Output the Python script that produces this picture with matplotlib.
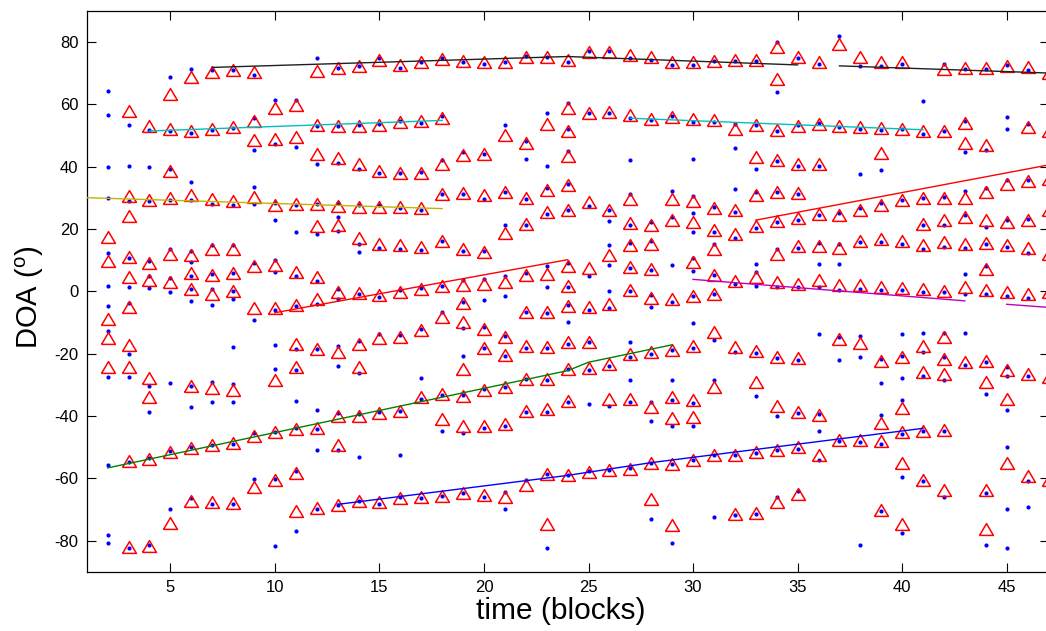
import matplotlib
matplotlib.use("Agg")
import matplotlib.pyplot as plt

plt.rcParams['font.family'] = ['Liberation Sans', 'DejaVu Sans']
plt.rcParams['mathtext.fontset'] = 'custom'
plt.rcParams['mathtext.rm'] = 'Liberation Sans'
plt.rcParams['axes.unicode_minus'] = False

# ---------------- data ----------------
blocks = list(range(2, 48))

# DOA estimates (red triangles), one list per block 2..47
tri_doa = [
    [17.4, 9.7, -9.0, -15.0, -24.4],                                         # 2
    [57.7, 30.4, 24.1, 11.1, 4.6, -5.0, -17.2, -24.4, -54.5, -82.0],         # 3
    [52.9, 29.3, 9.2, 3.6, -27.8, -33.8, -53.8, -81.7],                      # 4
    [63.2, 52.1, 38.5, 29.8, 11.8, 3.0, -51.6, -74.3],                       # 5
    [68.6, 51.5, 31.0, 11.5, 6.0, 0.6, -30.4, -50.3, -67.3],                 # 6
    [70.2, 52.0, 29.6, 13.4, 5.1, -0.8, -31.0, -49.5, -67.6],                # 7
    [70.9, 52.7, 28.9, 13.7, 5.8, 0.1, -31.7, -48.7, -67.8],                 # 8
    [70.2, 54.7, 48.5, 30.3, 8.1, -5.4, -46.3, -62.8],                       # 9
    [58.8, 48.9, 27.6, 8.3, -5.4, -28.4, -45.2, -60.5],                      # 10
    [59.6, 49.4, 28.1, 6.1, -4.5, -17.0, -24.4, -44.2, -58.3, -70.6],        # 11
    [70.5, 53.3, 43.9, 28.1, 20.9, 4.7, -2.6, -18.6, -44.0, -69.5],          # 12
    [71.6, 52.9, 42.6, 27.3, 21.4, -0.2, -19.6, -39.9, -49.3, -68.7],        # 13
    [72.2, 52.9, 40.7, 27.0, 17.2, -0.6, -17.0, -24.2, -39.9, -67.3],        # 14
    [74.2, 53.2, 38.5, 27.0, 15.3, -1.3, -15.0, -39.1, -67.6],               # 15
    [72.6, 54.3, 38.0, 27.0, 14.7, -0.2, -14.6, -38.3, -66.2],               # 16
    [73.4, 54.5, 38.0, 26.8, 14.2, 0.6, -12.5, -34.0, -66.0],                # 17
    [74.6, 55.6, 40.7, 31.2, 16.1, 1.7, -8.4, -33.0, -41.0, -65.8],          # 18
    [74.0, 43.6, 31.5, 13.7, 2.0, -3.9, -9.8, -24.9, -33.5, -43.4, -64.7],   # 19
    [73.5, 44.0, 30.8, 12.7, 2.2, -12.0, -18.2, -31.7, -43.1, -65.5],        # 20
    [73.5, 50.2, 31.9, 18.8, 3.0, -14.8, -20.5, -30.6, -42.6, -66.0],        # 21
    [75.2, 47.6, 30.0, 21.6, 5.1, -6.8, -17.5, -28.2, -38.5, -62.3],         # 22
    [75.2, 53.8, 32.6, 25.5, 5.4, -6.8, -18.0, -28.2, -37.8, -58.8, -74.6],  # 23
    [74.2, 58.7, 51.5, 43.3, 34.2, 26.2, 8.2, 1.7, -4.7, -16.2, -25.0, -35.1, -59.1],  # 24
    [76.6, 57.2, 28.5, 7.4, -5.2, -16.2, -24.6, -58.0],                      # 25
    [76.9, 57.4, 26.2, 11.5, -4.2, -23.2, -34.6, -57.5],                     # 26
    [75.9, 56.4, 29.6, 22.0, 14.7, 7.8, 0.3, -20.2, -34.6, -57.0],           # 27
    [75.2, 55.3, 21.4, 15.3, 7.0, -2.2, -19.6, -37.0, -55.1, -66.6],         # 28
    [73.7, 55.9, 29.6, 23.0, -2.6, -18.9, -34.0, -40.7, -55.6, -75.1],       # 29
    [73.5, 55.3, 29.1, 22.3, 9.5, -1.5, -17.5, -34.8, -40.4, -54.3],         # 30
    [74.0, 55.0, 26.8, 19.5, 13.7, 5.1, -0.8, -13.0, -30.8, -52.5],          # 31
    [74.2, 52.0, 25.9, 18.2, 3.3, -18.0, -52.4, -71.6],                      # 32
    [74.2, 53.2, 43.0, 30.8, 20.9, 4.4, -19.1, -29.2, -51.6, -71.2],         # 33
    [78.2, 68.0, 51.8, 42.2, 31.9, 22.5, 11.8, 2.8, -21.2, -36.7, -50.9, -67.6],  # 34
    [75.3, 52.9, 40.7, 31.6, 23.6, 14.5, 2.2, -21.5, -38.6, -50.0, -65.0],   # 35
    [73.5, 53.7, 40.7, 24.9, 14.5, 3.5, -39.7, -52.5],                       # 36
    [79.3, 52.9, 24.6, 14.0, 2.0, -15.4, -47.9],                             # 37
    [75.0, 52.7, 25.9, 16.1, 1.9, -16.7, -47.9],                             # 38
    [73.5, 52.4, 44.2, 27.6, 16.6, 1.2, -22.3, -42.2, -48.2, -70.1],         # 39
    [73.5, 52.1, 29.4, 16.1, 0.9, -21.0, -37.4, -45.2, -55.0, -74.6],        # 40
    [51.3, 30.0, 21.6, 14.7, 0.6, -17.5, -26.0, -44.7, -60.7],               # 41
    [71.3, 51.5, 30.0, 22.7, 15.8, 0.1, -14.6, -21.8, -26.6, -44.5, -63.9],  # 42
    [71.6, 54.0, 47.6, 30.0, 23.8, 15.3, 1.4, -22.8],                        # 43
    [71.6, 46.8, 31.8, 22.7, 15.6, 7.0, 0.3, -22.3, -29.2, -63.9, -76.4],    # 44
    [72.4, 34.5, 22.3, 14.8, -0.2, -25.3, -34.6, -55.0],                     # 45
    [71.8, 52.7, 35.3, 23.0, 14.0, -1.0, -26.6, -59.3],                      # 46
    [70.0, 51.5, 36.0, 26.2, 11.8, -0.4, -27.6, -60.5],                      # 47
]

# raw DOA observations (blue dots), one list per block 2..47
dot_doa = [
    [64.3, 56.6, 39.8, 29.8, 12.1, 1.6, -4.8, -12.7, -27.4, -55.7, -78.3, -80.7],   # 2
    [53.3, 40.3, 29.1, 10.6, 1.3, -3.7, -20.1, -27.4, -54.9, -82.3],               # 3
    [51.6, 40.0, 29.1, 9.7, 5.0, 1.0, -30.3, -38.9, -53.4, -81.5],                 # 4
    [68.6, 51.3, 39.3, 29.4, 13.4, 4.1, -0.3, -29.4, -51.3, -69.8],                # 5
    [71.2, 50.8, 35.1, 29.4, 12.9, 9.5, 5.0, 0.6, -3.1, -30.5, -37.1, -49.9, -66.3],  # 6
    [70.9, 51.7, 28.1, 14.8, 5.4, 0.7, -4.5, -29.2, -35.5, -49.3, -68.2],          # 7
    [70.9, 52.4, 27.6, 14.7, 5.8, 0.1, -2.4, -18.0, -29.8, -35.4, -49.0, -68.4],   # 8
    [69.5, 55.7, 45.4, 33.4, 28.1, 8.9, -9.2, -45.4, -60.4],                       # 9
    [61.2, 47.2, 28.2, 22.8, 9.9, 6.3, -6.0, -17.2, -25.1, -45.1, -60.2, -81.6],   # 10
    [61.2, 46.4, 27.8, 19.0, 4.8, -4.6, -18.5, -25.2, -35.1, -44.0, -57.8, -77.0], # 11
    [74.7, 52.9, 40.8, 28.1, 18.2, 3.3, -4.1, -18.6, -38.2, -44.3, -51.0, -69.8],  # 12
    [71.7, 53.1, 41.2, 28.2, 23.8, 19.3, 0.6, -2.6, -17.5, -23.9, -39.1, -50.8, -68.5],  # 13
    [72.3, 53.2, 39.2, 27.6, 15.3, 12.7, -1.0, -16.1, -26.3, -39.4, -53.2, -67.3], # 14
    [74.8, 53.8, 37.9, 27.6, 14.0, -2.0, -13.8, -38.8, -68.2],                     # 15
    [71.7, 54.5, 38.0, 26.8, 13.7, 0.3, -14.0, -38.3, -52.7, -66.0],               # 16
    [73.5, 54.1, 38.3, 26.2, 13.2, 0.9, -12.2, -27.8, -34.5, -66.3],               # 17
    [74.8, 56.1, 42.2, 31.1, 16.1, 1.7, -6.8, -33.2, -45.0, -65.7],                # 18
    [73.5, 44.7, 31.1, 12.9, 3.5, -3.6, -11.9, -20.9, -33.2, -45.4, -64.7],        # 19
    [73.0, 44.1, 29.5, 12.9, 3.8, -2.9, -11.6, -18.2, -31.4, -44.0, -66.1],        # 20
    [73.5, 53.2, 31.9, 21.1, 4.9, -1.7, -14.5, -20.9, -30.6, -43.3, -64.4, -69.8], # 21
    [75.6, 48.1, 42.3, 29.7, 21.1, 6.0, -6.8, -18.2, -28.2, -38.6, -60.7],         # 22
    [75.2, 57.2, 40.1, 33.2, 24.9, 8.1, 1.2, -7.1, -18.3, -28.5, -38.6, -58.8, -82.3],  # 23
    [73.5, 60.5, 52.0, 44.9, 34.4, 26.2, 9.2, 1.2, -4.4, -10.0, -16.8, -25.0, -35.6, -59.1],  # 24
    [77.2, 57.3, 27.3, 4.9, -6.1, -16.4, -25.2, -36.2, -57.8],                     # 25
    [77.1, 57.2, 26.0, 22.5, 14.7, 8.4, 0.1, -5.5, -23.9, -36.7, -57.3],           # 26
    [74.8, 55.5, 42.0, 31.1, 21.2, 15.6, 7.4, 0.1, -16.4, -21.0, -28.4, -35.6, -56.7],  # 27
    [74.2, 54.8, 22.3, 16.1, 6.7, -1.2, -5.2, -20.0, -35.6, -41.5, -55.0, -73.0],  # 28
    [72.6, 56.3, 32.1, 23.8, 8.3, -3.6, -18.8, -28.4, -34.9, -43.1, -55.6, -80.7], # 29
    [72.6, 54.3, 42.5, 30.5, 25.2, 19.1, 10.6, 6.5, -1.7, -10.3, -18.2, -36.0, -43.3, -54.0],  # 30
    [73.9, 54.3, 27.0, 19.1, 15.3, 5.1, -1.0, -15.6, -28.5, -52.7, -72.6],         # 31
    [73.9, 53.8, 45.8, 32.9, 25.5, 17.2, 2.2, -19.6, -52.7, -71.9],                # 32
    [73.9, 53.4, 39.3, 31.9, 20.4, 8.8, 6.2, 1.7, -19.8, -33.5, -51.8, -71.6],     # 33
    [79.9, 63.8, 51.3, 41.7, 31.9, 22.2, 13.4, 1.4, -21.4, -40.1, -50.9, -66.0],   # 34
    [74.8, 53.2, 40.1, 31.3, 23.0, 14.0, 1.2, -22.1, -39.1, -50.6, -64.1],         # 35
    [72.8, 54.0, 40.3, 24.3, 15.6, 8.8, 1.2, -13.8, -39.4, -45.0, -54.1],          # 36
    [82.0, 52.7, 25.0, 15.0, 8.8, 0.3, -14.8, -22.1, -48.2],                       # 37
    [72.3, 52.1, 37.6, 26.6, 15.8, 0.6, -14.5, -21.2, -48.4, -81.5],               # 38
    [72.4, 51.7, 39.0, 28.4, 15.9, 0.3, -21.8, -29.4, -39.6, -49.0, -70.4],        # 39
    [73.0, 51.9, 29.4, 15.0, 0.4, -13.8, -20.9, -27.8, -34.8, -45.8, -59.6, -77.5],  # 40
    [60.9, 50.3, 30.0, 21.4, 13.4, -0.1, -13.5, -19.6, -27.3, -45.0, -61.0],       # 41
    [73.0, 51.3, 30.2, 21.4, 14.2, -0.4, -13.5, -21.2, -28.4, -44.7, -66.0],       # 42
    [71.3, 54.5, 44.6, 32.0, 24.6, 14.0, 5.4, -0.9, -13.5, -23.6],                 # 43
    [71.3, 45.3, 33.0, 20.7, 15.0, 8.1, -0.9, -22.8, -33.0, -64.6, -81.5],         # 44
    [72.7, 56.0, 52.1, 35.6, 23.0, 14.2, -1.7, -24.4, -27.1, -38.1, -50.0, -69.8, -82.3],  # 45
    [70.9, 53.7, 35.7, 23.3, 12.4, -2.2, -27.1, -61.0, -69.2],                     # 46
    [],                                                                            # 47
]

# tracked source trajectories (time, DOA)
track_black_a_t = [7, 24, 35];        track_black_a_doa = [71.8, 75.3, 72.6]
track_black_b_t = [37, 47];           track_black_b_doa = [72.3, 70.0]
track_cyan_a_t = [4, 18];             track_cyan_a_doa = [51.4, 54.8]
track_cyan_b_t = [27, 41];            track_cyan_b_doa = [55.5, 51.8]
track_yellow_t = [1, 18];             track_yellow_doa = [30.0, 26.5]
track_red_a_t = [10, 24];             track_red_a_doa = [-6.9, 10.1]
track_red_b_t = [33, 47];             track_red_b_doa = [22.8, 40.5]
track_magenta_a_t = [30, 43];         track_magenta_a_doa = [3.8, -3.1]
track_magenta_b_t = [45, 47];         track_magenta_b_doa = [-4.2, -5.2]
track_green_t = [2, 24, 25, 29];      track_green_doa = [-56.7, -25.5, -22.8, -17.2]
track_blue_t = [13, 24, 28, 41];      track_blue_doa = [-68.4, -59.1, -55.0, -44.0]

x_ticks = [5, 10, 15, 20, 25, 30, 35, 40, 45]
y_ticks = [-80, -60, -40, -20, 0, 20, 40, 60, 80]

# ---------------- figure ----------------
W, H = 1046, 631
fig = plt.figure(figsize=(W / 100, H / 100), dpi=100)
left_px, right_px, top_px, bottom_px = 86.7, 1048.5, 10.7, 571.7
ax = fig.add_axes([left_px / W, 1 - bottom_px / H,
                   (right_px - left_px) / W, (bottom_px - top_px) / H])

tx, ty, dx, dy = [], [], [], []
for b, tl, dl in zip(blocks, tri_doa, dot_doa):
    tx += [b] * len(tl); ty += tl
    dx += [b] * len(dl); dy += dl

ax.plot(dx, dy, linestyle='none', marker='o', markersize=3.0,
        markerfacecolor='#0000ff', markeredgewidth=0, zorder=2)
tri_marker = [(-1, -0.85), (1, -0.85), (0, 0.85), (-1, -0.85)]
ax.plot(tx, ty, linestyle='none', marker=tri_marker, markersize=10,
        markerfacecolor='none', markeredgecolor='#ff0000',
        markeredgewidth=1.1, zorder=3)

lw = 1.0
ax.plot(track_black_a_t, track_black_a_doa, color='#202020', lw=lw, zorder=4)
ax.plot(track_black_b_t, track_black_b_doa, color='#202020', lw=lw, zorder=4)
ax.plot(track_cyan_a_t, track_cyan_a_doa, color='#00bfbf', lw=lw, zorder=4)
ax.plot(track_cyan_b_t, track_cyan_b_doa, color='#00bfbf', lw=lw, zorder=4)
ax.plot(track_yellow_t, track_yellow_doa, color='#c0b400', lw=lw, zorder=4)
ax.plot(track_red_a_t, track_red_a_doa, color='#ff0000', lw=lw, zorder=4)
ax.plot(track_red_b_t, track_red_b_doa, color='#ff0000', lw=lw, zorder=4)
ax.plot(track_magenta_a_t, track_magenta_a_doa, color='#bf00bf', lw=lw, zorder=4)
ax.plot(track_magenta_b_t, track_magenta_b_doa, color='#bf00bf', lw=lw, zorder=4)
ax.plot(track_green_t, track_green_doa, color='#008000', lw=lw, zorder=4)
ax.plot(track_blue_t, track_blue_doa, color='#0000ff', lw=lw, zorder=4)

ax.set_xlim(1, 47)
ax.set_ylim(-90, 90)
ax.set_xticks(x_ticks)
ax.set_yticks(y_ticks)
ax.tick_params(direction='in', length=6.5, width=0.8, top=True, right=True,
               labelsize=12, colors='black')
ax.tick_params(axis='x', pad=6)
ax.tick_params(axis='y', pad=6)
for s in ax.spines.values():
    s.set_linewidth(0.9)
    s.set_color('black')

fig.text(561 / W, 1 - 611 / H, 'time (blocks)', fontsize=21.5,
         ha='center', va='center')
fig.text(30 / W, 1 - 297 / H, 'DOA ($^{\\mathrm{o}}$)', fontsize=21,
         ha='center', va='center', rotation=90)

fig.savefig('out.png', dpi=100)
